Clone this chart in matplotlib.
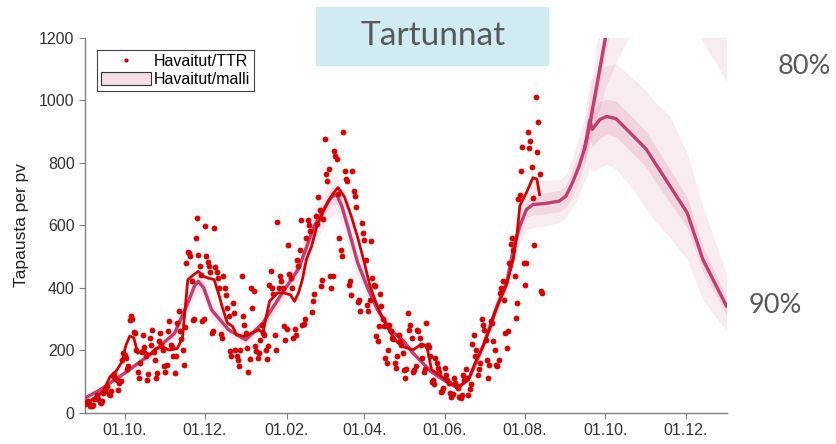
import pandas as pd
import matplotlib
matplotlib.use('Agg')
import matplotlib.pyplot as plt
import matplotlib.dates as mdates
from matplotlib.lines import Line2D
from matplotlib.patches import Patch, Rectangle

plt.rcParams['font.family'] = ['Liberation Sans', 'DejaVu Sans']

# daily observed cases, one list per month starting 1.9.2020
sep20 = [28, 35, 38, 30, 22, 20, 25, 42, 48, 55, 45, 35, 32, 38, 62, 70, 78, 85, 60, 55,
         70, 118, 125, 110, 105, 72, 95, 100, 170, 190]
oct20 = [185, 175, 140, 150, 295, 310, 300, 258, 255, 200, 130, 110, 160, 195, 250, 210, 180,
         105, 125, 240, 215, 265, 195, 170, 110, 127, 230, 255, 217, 199, 150]
nov20 = [131, 153, 260, 292, 217, 210, 180, 127, 180, 287, 324, 260, 235, 200, 152, 275, 480,
         515, 510, 500, 420, 297, 300, 560, 624, 505, 470, 440, 292, 300]
dec20 = [597, 500, 483, 470, 450, 255, 260, 592, 467, 449, 430, 400, 252, 240, 436, 400, 377,
         336, 308, 196, 180, 350, 320, 200, 180, 170, 150, 200, 436, 308, 280]
jan21 = [255, 207, 131, 172, 399, 335, 388, 212, 196, 175, 191, 233, 280, 255, 250, 201, 172,
         212, 410, 452, 399, 380, 249, 201, 610, 399, 436, 420, 400, 276, 233]
feb21 = [267, 538, 445, 430, 400, 238, 267, 250, 490, 468, 520, 618, 281, 284, 300, 559, 615,
         600, 581, 321, 356, 380, 629, 605, 691, 650, 406, 426]
mar21 = [620, 877, 763, 741, 779, 436, 399, 438, 838, 822, 811, 700, 560, 520, 500, 898, 773,
         747, 740, 410, 420, 378, 773, 709, 693, 659, 353, 361, 324, 608, 575]
apr21 = [554, 490, 345, 324, 361, 549, 431, 410, 404, 244, 228, 276, 380, 340, 300, 276, 174,
         158, 200, 280, 260, 240, 235, 158, 142, 180, 250, 230, 215, 190]
may21 = [137, 110, 140, 319, 265, 281, 238, 131, 137, 150, 265, 260, 238, 217, 174, 130, 140,
         287, 217, 210, 180, 99, 105, 90, 174, 158, 142, 130, 67, 70, 80]
jun21 = [142, 120, 105, 94, 62, 50, 60, 110, 95, 85, 80, 50, 46, 55, 120, 105, 140, 110, 56,
         75, 90, 220, 250, 180, 200, 120, 140, 160, 300, 280]
jul21 = [265, 233, 169, 110, 153, 292, 287, 228, 201, 153, 150, 170, 383, 400, 420, 360, 254,
         206, 260, 480, 540, 560, 520, 436, 303, 351, 683, 696, 773, 850, 479]
aug21 = [410, 479, 898, 846, 871, 787, 688, 535, 1010, 835, 929, 765, 388, 383]

# smoothed observed curve
obs_line_dates = ['2020-09-01', '2020-09-08', '2020-09-15', '2020-09-20', '2020-09-25',
                  '2020-09-29', '2020-10-02', '2020-10-05', '2020-10-08', '2020-10-11',
                  '2020-10-15', '2020-10-20', '2020-10-25', '2020-10-30', '2020-11-04',
                  '2020-11-10', '2020-11-14', '2020-11-18', '2020-11-22', '2020-11-26',
                  '2020-11-30', '2020-12-04', '2020-12-08', '2020-12-12', '2020-12-14',
                  '2020-12-18', '2020-12-22', '2020-12-25', '2020-12-31', '2021-01-05',
                  '2021-01-11', '2021-01-14', '2021-01-19', '2021-01-25', '2021-01-30',
                  '2021-02-04', '2021-02-07', '2021-02-10', '2021-02-13', '2021-02-16',
                  '2021-02-20', '2021-02-24', '2021-03-01', '2021-03-05', '2021-03-09',
                  '2021-03-12', '2021-03-17', '2021-03-22', '2021-03-27', '2021-04-01',
                  '2021-04-05', '2021-04-10', '2021-04-15', '2021-04-21', '2021-04-26',
                  '2021-05-01', '2021-05-08', '2021-05-13', '2021-05-17', '2021-05-19',
                  '2021-05-22', '2021-05-28', '2021-06-05', '2021-06-12', '2021-06-19',
                  '2021-06-24', '2021-06-30', '2021-07-05', '2021-07-09', '2021-07-13',
                  '2021-07-18', '2021-07-23', '2021-07-26', '2021-07-28', '2021-08-02',
                  '2021-08-07', '2021-08-10', '2021-08-12']
obs_line_vals = [30, 45, 70, 115, 135, 163, 215, 245, 240, 190, 200, 185, 205, 210, 200,
                 205, 240, 425, 440, 452, 436, 430, 426, 372, 340, 287, 276, 249, 244, 254,
                 265, 255, 356, 383, 383, 377, 356, 383, 426, 490, 533, 597, 645, 680, 705,
                 720, 690, 630, 560, 480, 410, 350, 300, 255, 225, 210, 201, 215, 217, 201,
                 137, 121, 94, 83, 105, 158, 212, 265, 319, 361, 410, 490, 575, 662, 704,
                 752, 747, 698]

# model fit up to the branching point, with relative band half-widths
fit_dates = ['2020-09-01', '2020-09-12', '2020-10-01', '2020-10-20', '2020-11-08',
             '2020-11-19', '2020-11-23', '2020-11-26', '2020-11-30', '2020-12-06',
             '2020-12-19', '2021-01-01', '2021-01-14', '2021-01-27', '2021-02-10',
             '2021-02-22', '2021-03-01', '2021-03-07', '2021-03-11', '2021-03-15',
             '2021-03-20', '2021-03-27', '2021-04-04', '2021-04-11', '2021-04-21',
             '2021-05-01', '2021-05-08', '2021-05-15', '2021-05-22', '2021-05-31',
             '2021-06-11', '2021-06-20', '2021-06-30', '2021-07-11', '2021-07-18',
             '2021-07-23', '2021-07-28', '2021-08-02', '2021-08-07', '2021-08-17',
             '2021-08-27', '2021-09-01', '2021-09-06', '2021-09-11', '2021-09-15']
fit_vals = [47, 72, 126, 185, 254, 361, 405, 420, 400, 329, 265, 233, 287, 372, 460, 597,
            650, 690, 698, 660, 586, 479, 394, 329, 265, 228, 190, 160, 130, 105, 78, 115,
            212, 345, 415, 520, 597, 650, 666, 670, 677, 693, 736, 789, 843]
fit_inner = [0.04] * 38 + [0.05, 0.05, 0.05, 0.05, 0.06, 0.06, 0.06]
fit_outer = [0.09] * 37 + [0.10, 0.11, 0.11, 0.10, 0.10, 0.11, 0.12, 0.12]

# scenario 90 %
f90_dates = ['2021-09-15', '2021-09-17', '2021-09-19', '2021-09-21', '2021-09-27',
             '2021-10-02', '2021-10-09', '2021-10-22', '2021-11-01', '2021-11-06',
             '2021-11-19', '2021-12-02', '2021-12-14', '2022-01-01']
f90_vals = [843, 880, 935, 907, 939, 948, 941, 886, 843, 810, 725, 640, 490, 340]
f90_in_lo = [795, 830, 880, 850, 880, 890, 882, 828, 785, 752, 672, 592, 452, 312]
f90_in_hi = [890, 930, 990, 962, 998, 1003, 998, 944, 900, 866, 778, 690, 530, 370]
f90_out_lo = [740, 760, 790, 770, 785, 795, 780, 715, 650, 620, 560, 490, 360, 260]
f90_out_hi = [945, 1000, 1060, 1070, 1100, 1110, 1116, 1070, 1030, 1000, 950, 830, 660, 440]

# scenario 80 %
f80_dates = ['2021-09-15', '2021-09-19', '2021-09-25', '2021-10-01', '2021-10-10',
             '2021-10-25', '2021-11-10', '2021-11-25', '2021-12-10', '2022-01-01']
f80_vals = [843, 920, 1060, 1200, 1400, 1600, 1700, 1650, 1500, 1300]
f80_in_lo = [805, 885, 1020, 1150, 1340, 1540, 1630, 1580, 1440, 1245]
f80_in_hi = [880, 955, 1100, 1250, 1460, 1660, 1770, 1720, 1560, 1355]
f80_out_lo = [790, 860, 950, 1040, 1130, 1250, 1330, 1320, 1215, 1060]
f80_out_hi = [900, 1010, 1200, 1400, 1700, 1950, 2050, 2000, 1850, 1600]

obs_vals = (sep20 + oct20 + nov20 + dec20 + jan21 + feb21 + mar21 + apr21 + may21 + jun21
            + jul21 + aug21)
obs_dates = pd.date_range('2020-09-01', periods=len(obs_vals), freq='D')

red = '#d40000'
mag = '#bf3f70'
band = '#c8527e'

fig = plt.figure(figsize=(8.36, 4.44), dpi=100)
ax = fig.add_axes([0.1017, 0.0707, 0.7675, 0.8443])

fd = pd.to_datetime(fit_dates)
fv = pd.Series(fit_vals, dtype=float)
fin = pd.Series(fit_inner)
fout = pd.Series(fit_outer)
ax.fill_between(fd, fv * (1 - fout), fv * (1 + fout), color=band, alpha=0.11, lw=0, zorder=1)
ax.fill_between(fd, fv * (1 - fin), fv * (1 + fin), color=band, alpha=0.13, lw=0, zorder=1)

d90 = pd.to_datetime(f90_dates)
d80 = pd.to_datetime(f80_dates)
ax.fill_between(d80, f80_out_lo, f80_out_hi, color=band, alpha=0.11, lw=0, zorder=1)
ax.fill_between(d90, f90_out_lo, f90_out_hi, color=band, alpha=0.11, lw=0, zorder=1)
ax.fill_between(d80, f80_in_lo, f80_in_hi, color=band, alpha=0.16, lw=0, zorder=1)
ax.fill_between(d90, f90_in_lo, f90_in_hi, color=band, alpha=0.16, lw=0, zorder=1)

ax.plot(fd, fit_vals, color=mag, lw=2.4, zorder=3, solid_capstyle='round')
ax.plot(d90, f90_vals, color=mag, lw=2.4, zorder=3, solid_capstyle='round')
ax.plot(d80, f80_vals, color=mag, lw=2.4, zorder=3, solid_capstyle='round')

ax.plot(obs_dates, obs_vals, ls='none', marker='o', ms=4.2, mec='none', color=red, zorder=4)
ax.plot(pd.to_datetime(obs_line_dates), obs_line_vals, color=red, lw=2.0, zorder=5)

ax.set_xlim(pd.Timestamp('2020-09-01'), pd.Timestamp('2022-01-01'))
ax.set_ylim(0, 1200)
ax.set_yticks(range(0, 1201, 200))
ax.xaxis.set_major_locator(mdates.MonthLocator(bymonth=[2, 4, 6, 8, 10, 12]))
ax.xaxis.set_major_formatter(mdates.DateFormatter('%d.%m.'))

for s in ['top', 'right']:
    ax.spines[s].set_visible(False)
for s in ['left', 'bottom']:
    ax.spines[s].set_color('#808080')
    ax.spines[s].set_linewidth(1.0)
ax.tick_params(direction='out', length=4, color='#808080', labelcolor='#333333', labelsize=11.5)
ax.set_ylabel('Tapausta per pv', fontsize=12.5, color='#222222', labelpad=7)

handles = [Line2D([], [], ls='none', marker='o', ms=3, mec='none', color=red),
           Patch(facecolor='#f3dde6', edgecolor='#333333', lw=0.8)]
leg = ax.legend(handles, ['Havaitut/TTR', 'Havaitut/malli'], loc='upper left',
                bbox_to_anchor=(0.019, 0.967), borderaxespad=0, fontsize=11.5,
                frameon=True, fancybox=False, framealpha=1, edgecolor='#444444',
                handlelength=3.1, handleheight=0.9, handletextpad=0.2,
                borderpad=0.25, labelspacing=0.15)
leg.get_frame().set_linewidth(0.8)

# title box
fig.patches.append(Rectangle((0.378, 0.8514), 0.279, 0.133, transform=fig.transFigure,
                             facecolor='#d0ecf2', edgecolor='none', zorder=0))
fig.text(0.5175, 0.918, 'Tartunnat', fontsize=24, color='#595959', family='Lato',
         ha='center', va='center')

fig.text(0.9625, 0.85, '80%', fontsize=19.5, color='#595959', family='Lato',
         ha='center', va='center')
fig.text(0.9275, 0.311, '90%', fontsize=19.5, color='#595959', family='Lato',
         ha='center', va='center')

fig.savefig('out.png', dpi=100)
